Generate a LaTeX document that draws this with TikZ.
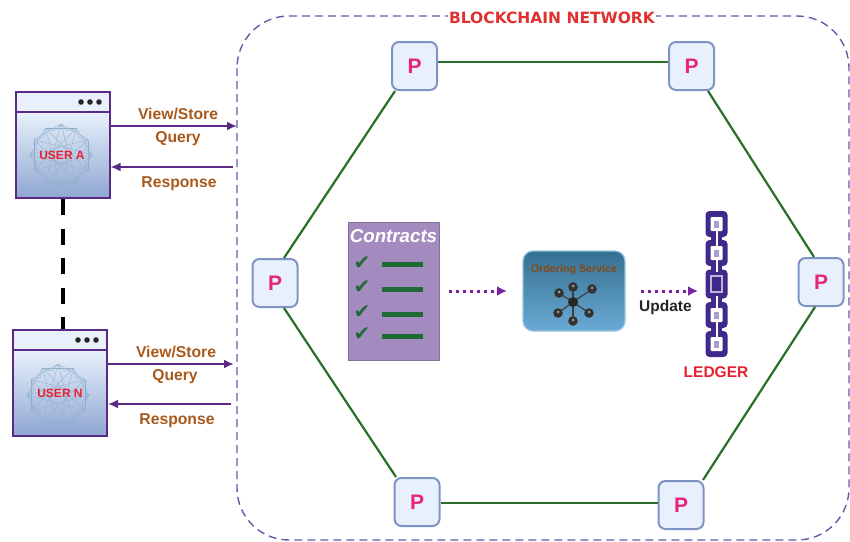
\documentclass[tikz,border=0pt]{standalone}
\usepackage{fontspec}
\setmainfont{Liberation Sans}
\newfontfamily\comic{DejaVu Sans}
\usetikzlibrary{arrows.meta,calc}
\definecolor{netdash}{HTML}{6B58A8}
\definecolor{arrowpurple}{HTML}{5B2A86}
\definecolor{chainpurple}{HTML}{3F2A8C}
\definecolor{linegreen}{HTML}{2A6E2A}
\definecolor{pborder}{HTML}{7F93C4}
\definecolor{pfill}{HTML}{E8F1FB}
\definecolor{ppink}{HTML}{E6247E}
\definecolor{labelbrown}{HTML}{A8591C}
\definecolor{ured}{HTML}{E8202E}
\definecolor{titlered}{HTML}{E03030}
\definecolor{contractfill}{HTML}{A48BBF}
\definecolor{checkgreen}{HTML}{1F6B36}
\definecolor{startop}{HTML}{34708F}
\definecolor{starbot}{HTML}{6BAAD6}
\definecolor{userbot}{HTML}{8FA6D2}
\definecolor{wirecol}{HTML}{8FB0CC}
\tikzset{
  peer/.style={draw=pborder,line width=2pt,fill=pfill,rounded corners=7pt,minimum width=45pt,minimum height=48pt,inner sep=0pt,text=ppink,font=\bfseries\fontsize{21}{21}\selectfont},
  gline/.style={draw=linegreen,line width=2.2pt},
  flow/.style={draw=arrowpurple,line width=2.4pt,-{Latex[length=10pt,width=9pt]}},
  lab/.style={text=labelbrown,font=\bfseries\fontsize{15.7}{16}\selectfont,inner sep=0pt},
  userbody/.style={draw=arrowpurple,line width=2pt,top color=pfill,bottom color=userbot,minimum width=94pt,minimum height=86pt,inner sep=0pt},
  userbar/.style={draw=arrowpurple,line width=2pt,fill=pfill,minimum width=94pt,minimum height=20pt,inner sep=0pt},
  usertext/.style={text=ured,font=\bfseries\fontsize{12}{12}\selectfont,inner sep=0pt},
  dotflow/.style={draw=arrowpurple!80!magenta,line width=3pt,dash pattern=on 3pt off 4pt,-{Latex[length=10pt,width=10pt]}},
  bar/.style={draw=checkgreen,line width=5pt},
  chainlink/.style={fill=chainpurple,rounded corners=4pt,minimum width=22pt,minimum height=26pt,inner sep=0pt},
  chainwhite/.style={fill=white,rounded corners=1pt,minimum width=12pt,minimum height=14pt,inner sep=0pt},
  chainin/.style={fill=chainpurple!45!white,minimum width=5pt,minimum height=7pt,inner sep=0pt},
  chainjoin/.style={draw=chainpurple,line width=11pt},
  chaingap/.style={draw=white,line width=2pt},
  chainbar/.style={draw=chainpurple!35!white,line width=1.2pt},
}
\newcommand{\wire}[3]{%
  \foreach \i in {0,30,...,330}{
    \foreach \j in {60,150}{
      \draw[#3,line width=.35pt] ($(#1)+(\i:#2)$) -- ($(#1)+(\i+\j:#2)$);
    }
    \draw[#3,line width=.35pt] ($(#1)+(\i:#2)$) -- ($(#1)+(\i+15:#2*.8)$) -- ($(#1)+(\i+30:#2)$);
  }}
\begin{document}
\begin{tikzpicture}[x=1pt,y=-1pt]
\useasboundingbox (0,0) rectangle (850,541);
\fill[white] (0,0) rectangle (850,541);
% network boundary
\draw[netdash,line width=1.4pt,dash pattern=on 8pt off 5pt,rounded corners=52pt] (237,16) rectangle (849,540);
\node[fill=white,text=titlered,inner sep=1pt,font=\comic\bfseries\fontsize{15.5}{16}\selectfont] (title) at (552,18) {BLOCKCHAIN NETWORK};
% peers
\node[peer] (p1) at (414.5,66) {P};
\node[peer] (p2) at (691.5,66) {P};
\node[peer] (p3) at (821,282) {P};
\node[peer] (p4) at (681,505) {P};
\node[peer] (p5) at (417,502) {P};
\node[peer] (p6) at (275,283) {P};
\draw[gline] ([yshift=4pt]p1.east) -- ([yshift=4pt]p2.west);
\draw[gline] ([xshift=16.5pt]p2.south) -- ([xshift=-7pt]p3.north);
\draw[gline] ([xshift=-6pt]p3.south) -- ([xshift=22pt]p4.north);
\draw[gline] ([yshift=-1pt]p5.east) -- ([yshift=2pt]p4.west);
\draw[gline] ([xshift=-21pt]p5.north) -- ([xshift=9pt]p6.south);
\draw[gline] ([xshift=9pt]p6.north) -- ([xshift=-19.5pt]p1.south);
% users
\node[userbody] (ua) at (62.5,155) {};
\node[userbar] (uabar) at (62.5,102) {};
\coordinate (ca) at (61,155);
\wire{ca}{31}{wirecol}
\fill[black!85] (81,102) circle (2.8pt) ++(9,0) circle (2.8pt) ++(9,0) circle (2.8pt);
\node[usertext] (uat) at (62,155) {USER A};
\node[userbody] (un) at (60,393) {};
\node[userbar] (unbar) at (60,339.5) {};
\coordinate (cn) at (58,395);
\wire{cn}{31}{wirecol}
\fill[black!85] (78,340) circle (2.8pt) ++(9,0) circle (2.8pt) ++(9,0) circle (2.8pt);
\node[usertext] (unt) at (60,393) {USER N};
\draw[black,line width=4pt,dash pattern=on 16pt off 13.5pt] (ua.south) -- (ua.south |- unbar.north);
% flows
\coordinate (e1) at (237,126);
\coordinate (e2) at (233,167);
\coordinate (e3) at (234,364);
\coordinate (e4) at (231,404);
\draw[flow] (ua.east |- e1) -- (e1);
\draw[flow] (e2) -- (ua.east |- e2);
\draw[flow] (un.east |- e3) -- (e3);
\draw[flow] (e4) -- (un.east |- e4);
\node[lab] (l1) at (178,114) {View/Store};
\node[lab] (l2) at (178,138.5) {Query};
\node[lab] (l3) at (179,184) {Response};
\node[lab] (l4) at (176,352) {View/Store};
\node[lab] (l5) at (175,376.5) {Query};
\node[lab] (l6) at (177,421) {Response};
% contracts
\node[draw=contractfill!80!black,line width=.8pt,fill=contractfill,minimum width=91pt,minimum height=138pt,inner sep=0pt] (ctr) at (393.5,291) {};
\node[text=white,font=\bfseries\itshape\fontsize{18.7}{19}\selectfont,inner sep=0pt] (ctrt) at (393.5,236) {Contracts};
\foreach \yy/\yb/\xb in {263/264/382,287/289/381.5,312/314/382,334/336/382}{
  \node[text=checkgreen,inner sep=0pt,font=\comic\fontsize{20}{20}\selectfont] at (362,\yy) {✔};
  \draw[bar] (\xb,\yb) -- ++(41,0);
}
% ordering service
\node[draw=starbot!70!white,line width=1.2pt,top color=startop,bottom color=starbot,rounded corners=10pt,minimum width=102pt,minimum height=80pt,inner sep=0pt] (os) at (574,291) {};
\node[text=labelbrown!80!black,font=\bfseries\fontsize{10.7}{11}\selectfont,inner sep=0pt] (ost) at (574,270) {Ordering Service};
\coordinate (hub) at (573,302);
\foreach \xx/\yy in {559/293,573/287,592/289,589/313,573/321,558/313}{
  \draw[black!75,line width=1.2pt] (hub) -- (\xx,\yy);
  \fill[black!80] (\xx,\yy) circle (4.8pt);
  \fill[white!60!black] (\xx,\yy-1) circle (1.5pt);
}
\fill[black!85] (hub) circle (5pt);
% chain
\node[chainlink] (c1) at (716.5,224) {};
\node[chainlink] (c2) at (716.5,253) {};
\node[chainlink,minimum height=29pt] (c3) at (716.5,284) {};
\node[chainlink] (c4) at (716.5,315) {};
\node[chainlink] (c5) at (716.5,344) {};
\draw[chainjoin] (c1.center) -- (c5.center);
\draw[chaingap] (c1.center) -- (c3.center);
\draw[chaingap] (c3.center) -- (c5.center);
\foreach \nm in {c1,c2,c4,c5}{
  \node[chainwhite] at (\nm) {};
  \node[chainin] at (\nm) {};
}
\node[fill=chainpurple,minimum width=17pt,minimum height=24pt,inner sep=0pt] (c3in) at (c3) {};
\draw[chainbar] ([xshift=-5.5pt,yshift=-8pt]c3) rectangle ([xshift=5.5pt,yshift=8pt]c3);
\draw[chainbar] ([xshift=-5.5pt,yshift=-2.7pt]c3) -- ([xshift=5.5pt,yshift=-2.7pt]c3);
\draw[chainbar] ([xshift=-5.5pt,yshift=2.7pt]c3) -- ([xshift=5.5pt,yshift=2.7pt]c3);
\node[text=ured,font=\bfseries\fontsize{15.5}{16}\selectfont,inner sep=0pt] (led) at (716,372) {LEDGER};
\node[text=black!85,font=\bfseries\fontsize{15.5}{16}\selectfont,inner sep=0pt] (upd) at (665.5,307) {Update};
% dotted arrows
\coordinate (osin) at (507,291);
\draw[dotflow] (449,291) -- (osin);
\coordinate (ledin) at (698,291);
\draw[dotflow] (641,291) -- (ledin);
\end{tikzpicture}
\end{document}
